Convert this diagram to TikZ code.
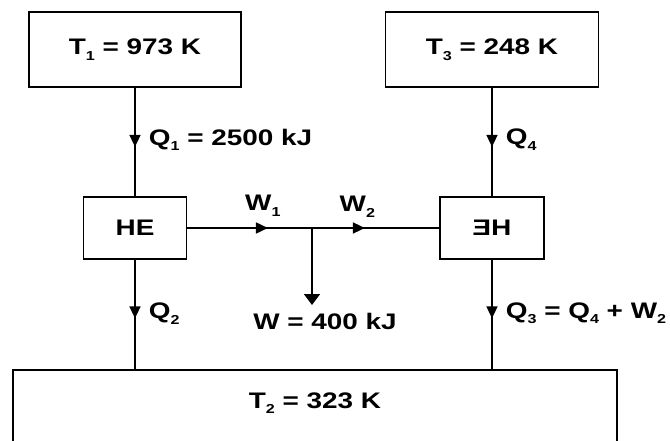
\documentclass[tikz,border=0pt]{standalone}
\usepackage{fontspec}
\setmainfont{Liberation Sans}
\newfontfamily\lab[FakeStretch=1.24]{Liberation Sans}
\usepackage{graphicx}
\usetikzlibrary{arrows.meta,decorations.markings}
\tikzset{qtip/.tip={Triangle[width=11pt,length=12pt]}}
\newcommand\lsub[1]{\raisebox{-0.25em}{\fontsize{13}{13}\selectfont #1}}
\begin{document}
\begin{tikzpicture}[x=1pt,y=-1pt,line width=1.7pt,
  txt/.style={inner sep=0pt,font=\lab\fontsize{22.5}{26}\selectfont\bfseries},
  box/.style={draw,rectangle,inner sep=0pt,txt},
  midarrow/.style={postaction={decorate},decoration={markings,mark=at position #1 with {\arrow{qtip}}}},
  twoarrows/.style 2 args={postaction={decorate},decoration={markings,
     mark=at position #1 with {\arrow{qtip}},mark=at position #2 with {\arrow{qtip}}}}
]
\useasboundingbox (0,0) rectangle (670,441);
\clip (0,0) rectangle (670,441);

\node[box,minimum width=212pt,minimum height=75pt] (T1) at (135,49.5) {T\lsub{1} = 973 K};
\node[box,minimum width=213pt,minimum height=75pt] (T3) at (492,49.5) {T\lsub{3} = 248 K};
\node[box,minimum width=103pt,minimum height=62pt] (HE) at (135,228) {HE};
\node[box,minimum width=104pt,minimum height=62pt] (EH) at (492,228) {\scalebox{-1}[1]{HE}};
\node[box,minimum width=604pt,minimum height=120pt,anchor=north] (T2) at (315,369) {};
\node[txt] (T2t) at (315,403) {T\lsub{2} = 323 K};

\draw[midarrow=0.545] (T1.south) -- (HE.north)
  node[txt,pos=0.48,anchor=west,xshift=13pt] (Q1) {Q\lsub{1} = 2500 kJ};
\draw[midarrow=0.545] (T3.south) -- (EH.north)
  node[txt,pos=0.48,anchor=west,xshift=13pt] (Q4) {Q\lsub{4}};
\draw[midarrow=0.536] (HE.south) -- (HE.south |- T2.north)
  node[txt,pos=0.49,anchor=west,xshift=13pt] (Q2) {Q\lsub{2}};
\draw[midarrow=0.536] (EH.south) -- (EH.south |- T2.north)
  node[txt,pos=0.49,anchor=west,xshift=13pt] (Q3) {Q\lsub{3} = Q\lsub{4} + W\lsub{2}};

\draw[twoarrows={0.32}{0.705}] (HE.east) -- (EH.west)
  node[txt,pos=0.30,yshift=22pt] (W1) {W\lsub{1}}
  node[txt,pos=0.675,yshift=21pt] (W2) {W\lsub{2}};

\coordinate (J) at (312,228);
\coordinate (Wtip) at (312,305);
\node[txt] (W) at (325,321) {W = 400 kJ};
\draw[-{Triangle[width=16pt,length=11pt]}] (J) -- (Wtip);
\end{tikzpicture}
\end{document}
